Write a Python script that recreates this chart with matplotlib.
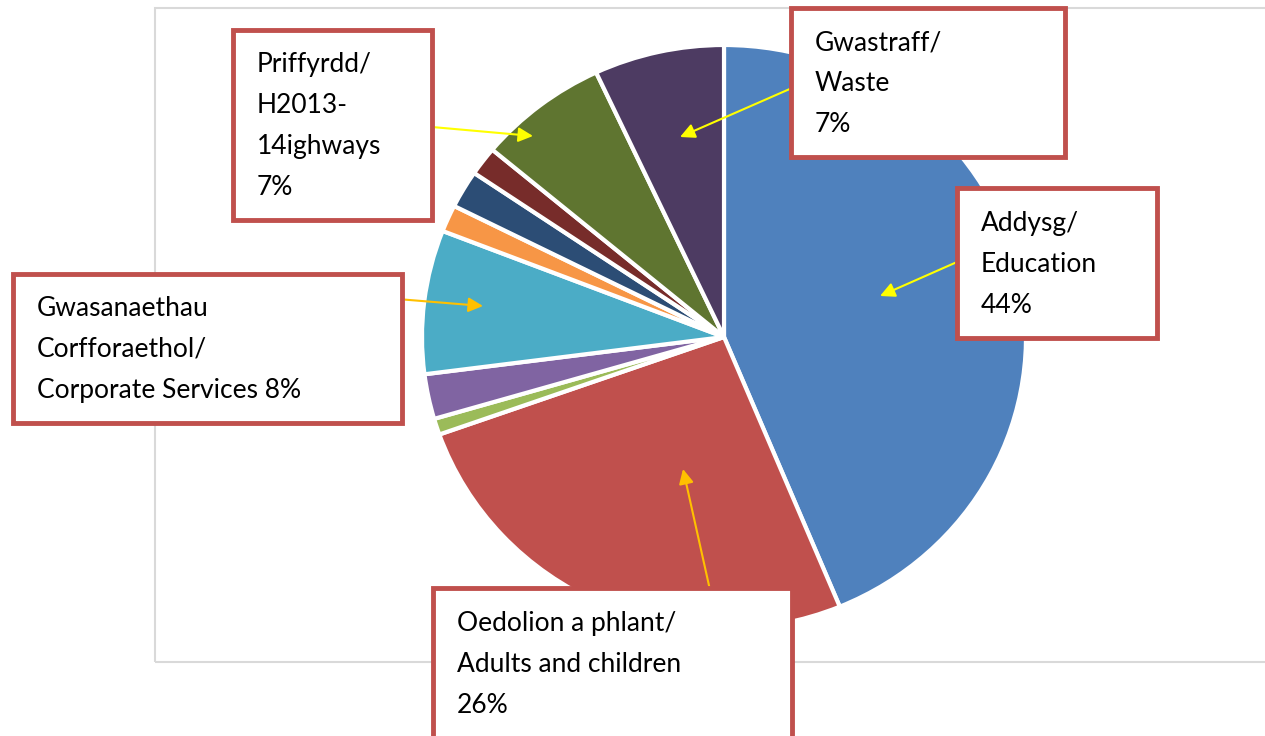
import matplotlib
matplotlib.use("Agg")
import matplotlib.pyplot as plt
from matplotlib.patches import Rectangle

# Budget shares by service area, clockwise from 12 o'clock
services = [
    "Addysg/ Education",
    "Oedolion a phlant/ Adults and children",
    "Other 1",
    "Other 2",
    "Gwasanaethau Corfforaethol/ Corporate Services",
    "Other 3",
    "Other 4",
    "Other 5",
    "Priffyrdd/ Highways",
    "Gwastraff/ Waste",
]
shares = [44, 26, 0.9, 2.5, 8, 1.5, 2.1, 1.6, 7, 7]
slice_colors = [
    "#4F81BD", "#C0504D", "#9BBB59", "#8064A2", "#4BACC6",
    "#F79646", "#2C4D75", "#772C2A", "#5F7530", "#4D3B62",
]

# Callout boxes: text lines, box (left, top, right, bottom) in px, text origin
callout_lines = [
    ["Priffyrdd/", "H2013-", "14ighways", "7%"],
    ["Gwastraff/", "Waste", "7%"],
    ["Addysg/", "Education", "44%"],
    ["Gwasanaethau", "Corfforaethol/", "Corporate Services 8%"],
    ["Oedolion a phlant/", "Adults and children", "26%"],
]
callout_boxes = [
    (233, 30, 432, 220),
    (791, 8, 1065, 157),
    (957, 188, 1157, 338),
    (13, 274, 402, 423),
    (433, 588, 792, 745),
]
callout_text_xy = [(257, 72), (815, 50), (981, 231), (37, 316), (457, 631)]
arrow_paths = [
    ((432, 127), (533, 136), "#FFFF00"),
    ((792, 88), (680, 137), "#FFFF00"),
    ((957, 262), (880, 296), "#FFFF00"),
    ((385, 298), (483, 306), "#FFC000"),
    ((710, 590), (683, 469), "#FFC000"),
]

W, H = 1265, 736
# pie footprint in px: centre and horizontal / vertical radii
PIE_CX, PIE_CY, PIE_RX, PIE_RY = 724, 337, 302, 292

fig = plt.figure(figsize=(W / 100, H / 100), dpi=100)


def fy(y):
    # pixel rows run downward, data y runs upward
    return H - y


# background layer: plot-area frame
bg = fig.add_axes([0, 0, 1, 1])
bg.set_xlim(0, W)
bg.set_ylim(0, H)
bg.axis("off")
bg.add_patch(Rectangle((155, fy(662)), 1200, 654, fill=False,
                       edgecolor="#D9D9D9", linewidth=1.5))

# the pie is slightly wider than tall
pax = fig.add_axes([(PIE_CX - PIE_RX) / W, fy(PIE_CY + PIE_RY) / H,
                    2 * PIE_RX / W, 2 * PIE_RY / H])
pax.pie(
    shares,
    colors=slice_colors,
    startangle=90,
    counterclock=False,
    radius=1,
    wedgeprops=dict(edgecolor="white", linewidth=3),
)
pax.set_aspect("auto")
pax.set_xlim(-1, 1)
pax.set_ylim(-1, 1)
pax.axis("off")

# overlay layer: arrows and callout boxes
ax = fig.add_axes([0, 0, 1, 1])
ax.set_xlim(0, W)
ax.set_ylim(0, H)
ax.axis("off")
ax.patch.set_alpha(0)

for (x0, y0), (x1, y1), col in arrow_paths:
    ax.annotate("", xy=(x1, fy(y1)), xytext=(x0, fy(y0)),
                arrowprops=dict(arrowstyle="-|>", color=col, lw=1.5,
                                mutation_scale=22, shrinkA=0, shrinkB=0),
                zorder=4)

for lines, (l, t, r, b), (tx, ty) in zip(callout_lines, callout_boxes, callout_text_xy):
    ax.add_patch(Rectangle((l, fy(b)), r - l, b - t, facecolor="white",
                           edgecolor="#C0504D", linewidth=3.5, zorder=5))
    for i, line in enumerate(lines):
        ax.text(tx, fy(ty + i * 41), line, fontsize=19, family="Lato",
                color="black", va="baseline", ha="left", zorder=6)

fig.savefig("out.png", dpi=100, facecolor="white")
